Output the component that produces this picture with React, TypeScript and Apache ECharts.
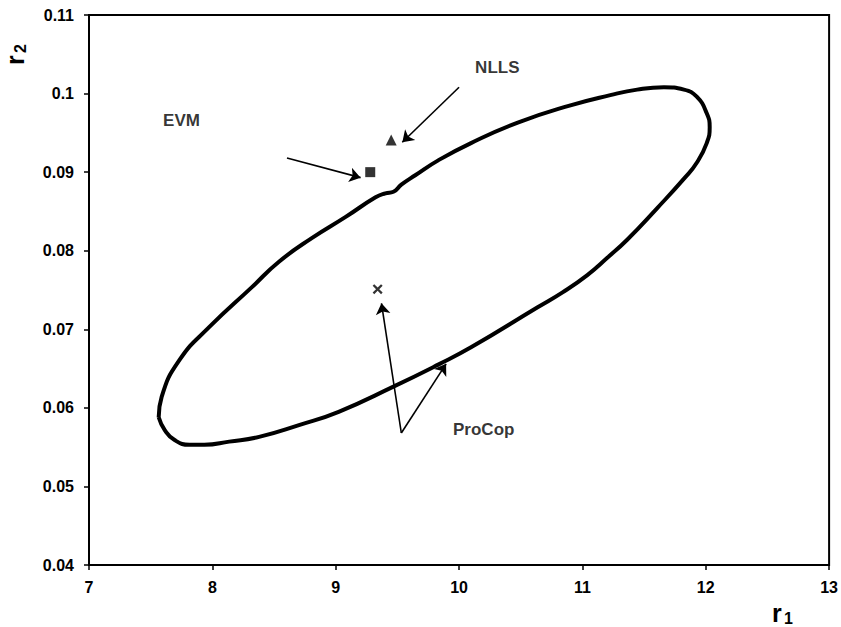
import React, { useEffect, useRef } from "react";
import * as echarts from "echarts";

// Confidence region contour (r1, r2)
const regionR1 = [7.565, 7.589, 7.734, 7.976, 8.323, 8.54, 8.806, 9.081, 9.323, 9.403, 9.468, 9.532, 9.645, 9.831, 10.097, 10.476, 10.903, 11.226, 11.444, 11.661, 11.823, 11.927, 12.008, 12.032, 12.008, 11.927, 11.831, 11.605, 11.363, 11.202, 11.04, 10.839, 10.637, 10.097, 9.831, 9.468, 9.024, 8.702, 8.379, 8.137, 7.935, 7.815, 7.694, 7.613, 7.565];
const regionR2 = [0.0588, 0.0614, 0.0661, 0.0703, 0.0754, 0.0786, 0.0816, 0.0843, 0.0868, 0.0873, 0.0875, 0.0884, 0.0896, 0.0915, 0.0937, 0.0963, 0.0985, 0.0998, 0.1005, 0.1008, 0.1005, 0.0996, 0.0975, 0.0957, 0.0937, 0.0912, 0.0893, 0.0854, 0.0814, 0.0791, 0.0769, 0.0747, 0.0728, 0.0677, 0.0655, 0.0627, 0.0595, 0.0578, 0.0563, 0.0557, 0.0553, 0.0553, 0.0559, 0.0572, 0.0588];

// Estimates
const evmPoint = [9.28, 0.09];
const nllsPoint = [9.45, 0.0941];
const procopPoint = [9.34, 0.0751];

// Annotation labels
const labelNames = ["EVM", "NLLS", "ProCop"];
const labelR1 = [7.75, 10.31, 10.2];
const labelR2 = [0.0966, 0.1033, 0.0572];

// Annotation arrows [fromR1, fromR2, toR1, toR2]
const arrows = [
  [8.605, 0.0918, 9.202, 0.0893],
  [10.0, 0.1008, 9.54, 0.0938],
  [9.532, 0.0568, 9.371, 0.0733],
  [9.532, 0.0568, 9.895, 0.0656],
];

const xTicks = { min: 7, max: 13, interval: 1 };
const yTicks = { min: 0.04, max: 0.11, interval: 0.01 };

const FONT = "'Liberation Sans', Arial, sans-serif";

export default function App() {
  const ref = useRef<HTMLDivElement>(null);
  useEffect(() => {
    document.body.style.margin = "0";
    if (!ref.current) return;
    const chart = echarts.init(ref.current, null, { renderer: "svg" });
    const region = regionR1.map((x, i) => [x, regionR2[i]]);
    const labels = labelNames.map((n, i) => ({ name: n, value: [labelR1[i], labelR2[i]] }));
    const axisCommon = {
      axisLine: { show: true, onZero: false, lineStyle: { color: "#000", width: 2 } },
      axisTick: { show: true, inside: false, length: 5, lineStyle: { color: "#000", width: 1.5 } },
      splitLine: { show: false },
    };
    chart.setOption({
      animation: false,
      backgroundColor: "#fff",
      grid: { left: 89, right: 8, top: 15, bottom: 62, show: true, borderColor: "#000", borderWidth: 2 },
      xAxis: {
        type: "value",
        min: xTicks.min,
        max: xTicks.max,
        interval: xTicks.interval,
        ...axisCommon,
        axisLabel: { color: "#000", fontSize: 16, fontWeight: "bold", fontFamily: FONT, margin: 14 },
      },
      yAxis: {
        type: "value",
        min: yTicks.min,
        max: yTicks.max,
        interval: yTicks.interval,
        ...axisCommon,
        axisLabel: { color: "#000", fontSize: 16, fontWeight: "bold", fontFamily: FONT, margin: 15 },
      },
      series: [
        {
          type: "line",
          data: region,
          smooth: 0.5,
          symbol: "none",
          lineStyle: { color: "#000", width: 4 },
        },
        {
          type: "scatter",
          data: [evmPoint],
          symbol: "rect",
          symbolSize: 10,
          itemStyle: { color: "#000" },
        },
        {
          type: "scatter",
          data: [nllsPoint],
          symbol: "triangle",
          symbolSize: 11,
          itemStyle: { color: "#000" },
        },
        {
          type: "scatter",
          data: [procopPoint],
          symbol: "path://M0,1.6L1.6,0L5,3.4L8.4,0L10,1.6L6.6,5L10,8.4L8.4,10L5,6.6L1.6,10L0,8.4L3.4,5Z",
          symbolSize: 10,
          itemStyle: { color: "#000" },
        },
        {
          type: "lines",
          coordinateSystem: "cartesian2d",
          data: arrows.map((a) => ({ coords: [[a[0], a[1]], [a[2], a[3]]] })),
          symbol: ["none", "arrow"],
          symbolSize: 11,
          lineStyle: { color: "#000", width: 1.6, curveness: 0, opacity: 1 },
          itemStyle: { color: "#000" },
        },
        {
          type: "scatter",
          data: labels,
          symbolSize: 0,
          label: {
            show: true,
            position: "inside",
            formatter: "{b}",
            color: "#000",
            fontSize: 17,
            fontWeight: "bold",
            fontFamily: FONT,
          },
        },
      ],
      graphic: [
        { type: "text", left: 772, top: 600, style: { text: "r", fontSize: 25, fontWeight: "bold", fontFamily: FONT, fill: "#000" } },
        { type: "text", left: 784, top: 610, style: { text: "1", fontSize: 16, fontWeight: "bold", fontFamily: FONT, fill: "#000" } },
        { type: "text", x: 27, y: 65, rotation: Math.PI / 2, style: { text: "r", fontSize: 25, fontWeight: "bold", fontFamily: FONT, fill: "#000", verticalAlign: "bottom", align: "left" } },
        { type: "text", x: 28, y: 53, rotation: Math.PI / 2, style: { text: "2", fontSize: 16, fontWeight: "bold", fontFamily: FONT, fill: "#000", verticalAlign: "bottom", align: "left" } },
      ],
    });
    return () => chart.dispose();
  }, []);
  return <div ref={ref} style={{ width: 841, height: 627 }} />;
}
